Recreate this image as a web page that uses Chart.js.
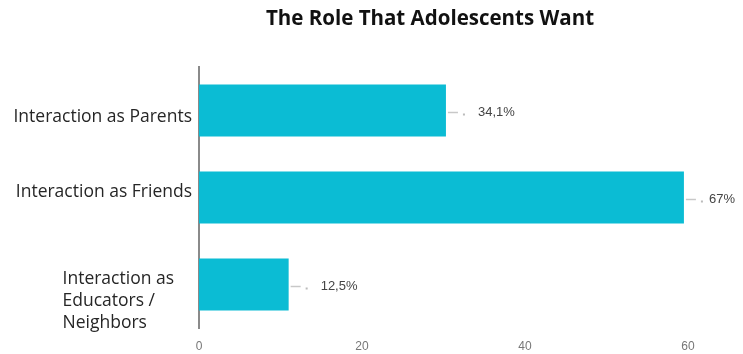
<!DOCTYPE html>
<html>
<head>
<meta charset="utf-8">
<script src="https://cdn.jsdelivr.net/npm/chart.js@4.4.0/dist/chart.umd.min.js"></script>
<style>
  body { margin: 0; background: #fff; }
  #wrap { width: 743px; height: 354px; position: relative; }
</style>
</head>
<body>
<div id="wrap"><canvas id="roleChart"></canvas></div>
<script>
// chart data
const chartTitle = 'The Role That Adolescents Want';
const categories = ['Interaction as Parents', 'Interaction as Friends', ['Interaction as', 'Educators /', 'Neighbors']];
const values = [30.3, 59.5, 11];
const valueLabels = ['34,1%', '67%', '12,5%'];
const xTicks = [0, 20, 40, 60];

const barColor = '#0bbcd4';

// title drawn a bit right of the page centre, like the original
const titlePlugin = {
    id: 'titleText',
    afterDraw(chart) {
        const ctx = chart.ctx;
        ctx.save();
        ctx.font = 'bold 20.5px "Open Sans"';
        ctx.fillStyle = '#111';
        ctx.textAlign = 'center';
        ctx.textBaseline = 'middle';
        ctx.fillText(chartTitle, 430, 19);
        ctx.restore();
    }
};

// category labels: single lines right aligned, the wrapped one left aligned as a block
// the original labels sit a little off their bars, so nudge each one
const labelNudge = [7, -5, 17];
const categoryLabels = {
    id: 'categoryLabels',
    afterDraw(chart) {
        const ctx = chart.ctx;
        const yScale = chart.scales.y;
        const right = yScale.right - 7;
        ctx.save();
        ctx.font = '17.5px "Open Sans"';
        ctx.fillStyle = '#262626';
        ctx.textBaseline = 'middle';
        categories.forEach((label, i) => {
            const y = yScale.getPixelForTick(i) + labelNudge[i];
            if (Array.isArray(label)) {
                const widest = Math.max(...label.map(l => ctx.measureText(l).width));
                const left = right - widest - 18;
                const lineH = 22;
                ctx.textAlign = 'left';
                label.forEach((line, j) => {
                    ctx.fillText(line, left, y + (j - (label.length - 1) / 2) * lineH);
                });
            } else {
                ctx.textAlign = 'right';
                ctx.fillText(label, right, y);
            }
        });
        ctx.restore();
    }
};

// value labels with the small leader mark after each bar
const valueLabelPlugin = {
    id: 'valueLabels',
    afterDatasetsDraw(chart) {
        const ctx = chart.ctx;
        const meta = chart.getDatasetMeta(0);
        ctx.save();
        meta.data.forEach((bar, i) => {
            const x = bar.x;
            const y = bar.y + 2;
            ctx.strokeStyle = '#c8c8c8';
            ctx.lineWidth = 1.5;
            ctx.beginPath();
            ctx.moveTo(x + 2, y);
            ctx.lineTo(x + 12, y);
            ctx.stroke();
            ctx.fillStyle = '#bbb';
            ctx.fillRect(x + 17, y + 1, 2, 2);
            ctx.font = '13px "Liberation Sans"';
            ctx.fillStyle = '#444';
            ctx.textAlign = 'left';
            ctx.textBaseline = 'middle';
            ctx.fillText(valueLabels[i], x + (i === 1 ? 25 : 32), y);
        });
        ctx.restore();
    }
};

const ctx = document.getElementById('roleChart').getContext('2d');
const roleChart = new Chart(ctx, {
    type: 'bar',
    data: {
        labels: categories,
        datasets: [{
            data: values,
            backgroundColor: barColor,
            borderWidth: 0,
            categoryPercentage: 1,
            barPercentage: 0.6
        }]
    },
    options: {
        indexAxis: 'y',
        responsive: true,
        maintainAspectRatio: false,
        animation: false,
        layout: {
            padding: { top: 67, right: 55, bottom: 0, left: 0 }
        },
        scales: {
            x: {
                min: 0,
                max: 60,
                afterBuildTicks: (scale) => {
                    scale.ticks = xTicks.map(v => ({ value: v }));
                },
                afterFit: (scale) => { scale.height = 26; },
                ticks: {
                    padding: 11,
                    color: '#777',
                    font: { family: '"Liberation Sans"', size: 12 }
                },
                grid: { display: false, drawTicks: false },
                border: { display: false }
            },
            y: {
                afterFit: (scale) => { scale.width = 199; },
                ticks: { display: false },
                grid: { display: false, drawTicks: false },
                border: { display: true, color: '#8a8a8a', width: 2 }
            }
        },
        plugins: {
            legend: { display: false },
            title: { display: false },
            tooltip: { enabled: false }
        }
    },
    plugins: [titlePlugin, categoryLabels, valueLabelPlugin]
});
</script>
</body>
</html>
